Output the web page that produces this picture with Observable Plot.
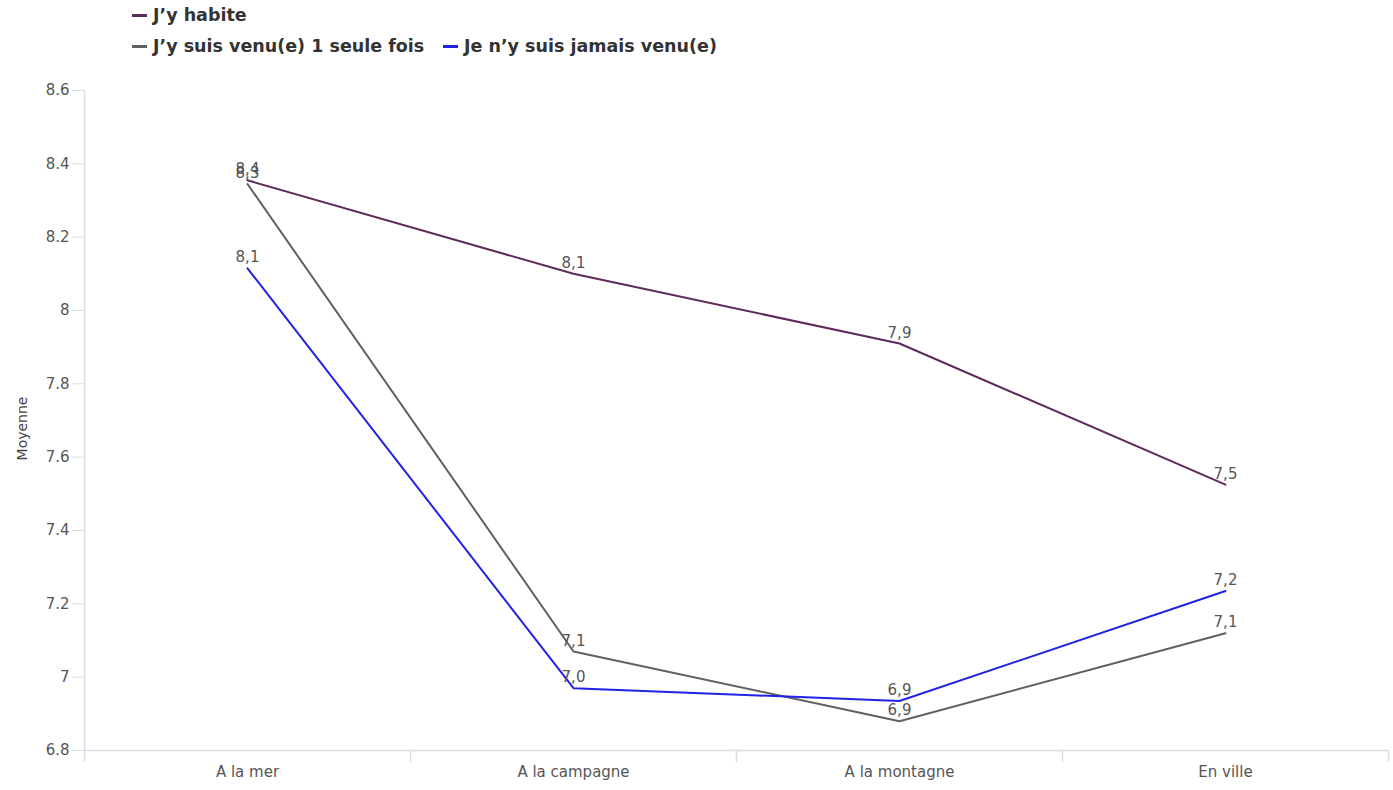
<!DOCTYPE html>
<html>
<head>
<meta charset="utf-8">
<script src="https://cdn.jsdelivr.net/npm/d3@7"></script>
<script src="https://cdn.jsdelivr.net/npm/@observablehq/plot@0.6"></script>
<style>
  html, body { margin: 0; padding: 0; background: #fff; }
  #wrap { position: relative; width: 1393px; height: 790px; font-family: "DejaVu Sans", Verdana, sans-serif; }
  #legend { position: relative; height: 70px; }
  .item { position: absolute; font-weight: bold; font-size: 17.5px; color: #333; white-space: nowrap; line-height: 20px; }
  .sw { display: inline-block; width: 15px; height: 3px; vertical-align: middle; margin-right: 6px; position: relative; top: -1px; }
</style>
</head>
<body>
<div id="wrap">
  <div id="legend"></div>
  <div id="chart"></div>
</div>
<script>
const categories = ["A la mer", "A la campagne", "A la montagne", "En ville"];
const seriesNames = ["J’y habite", "J’y suis venu(e) 1 seule fois", "Je n’y suis jamais venu(e)"];
const seriesColors = ["#5e2a5a", "#606060", "#2222e6"];
const habite = [8.355, 8.10, 7.91, 7.525];
const uneFois = [8.345, 7.07, 6.88, 7.12];
const jamais = [8.115, 6.97, 6.935, 7.235];
const yTicks = [6.8, 7.0, 7.2, 7.4, 7.6, 7.8, 8.0, 8.2, 8.4, 8.6];

const seriesValues = [habite, uneFois, jamais];
const data = [];
seriesValues.forEach((vals, s) => vals.forEach((v, i) => data.push({serie: seriesNames[s], i, cat: categories[i], v})));

// Legend
const legendPos = [[132, 5], [132, 36], [443, 36]];
const legend = document.getElementById("legend");
seriesNames.forEach((n, k) => {
  const d = document.createElement("div");
  d.className = "item";
  d.style.left = legendPos[k][0] + "px";
  d.style.top = legendPos[k][1] + "px";
  d.innerHTML = `<span class="sw" style="background:${seriesColors[k]}"></span>${n}`;
  legend.appendChild(d);
});

const fmt = v => v.toFixed(1).replace(".", ",");
const axisColor = "#dcdce6";

const chart = Plot.plot({
  width: 1393,
  height: 720,
  marginLeft: 84,
  marginRight: 5,
  marginTop: 20,
  marginBottom: 40,
  style: {fontFamily: "DejaVu Sans, Verdana, sans-serif", fontSize: "15px", color: "#555", background: "#fff"},
  x: {type: "linear", domain: [-0.5, categories.length - 0.5], label: null},
  y: {domain: [6.8, 8.6], label: null},
  color: {domain: seriesNames, range: seriesColors},
  marks: [
    Plot.ruleY([6.8], {stroke: axisColor, strokeWidth: 1.5}),
    Plot.ruleX([-0.5], {y1: 8.6, y2: 6.8, stroke: axisColor, strokeWidth: 1.5}),
    Plot.axisX(d3.range(-0.5, categories.length), {tickSize: 12, tickFormat: () => "", stroke: axisColor, strokeWidth: 1.5, label: null}),
    Plot.axisX(d3.range(categories.length), {tickSize: 0, tickPadding: 16, tickFormat: i => categories[i], fill: "#555", fontSize: 15, label: null}),
    Plot.axisY(yTicks, {tickSize: 12, tickPadding: 3, stroke: axisColor, tickFormat: d => String(+d.toFixed(1)), fill: "#555", fontSize: 15, label: null}),
    Plot.text(["Moyenne"], {frameAnchor: "left", textAnchor: "middle", dx: -62, dy: 8, rotate: -90, fill: "#444", fontSize: 14}),
    Plot.line(data, {x: "i", y: "v", z: "serie", stroke: "serie", strokeWidth: 2}),
    Plot.text(data, {x: "i", y: "v", text: d => fmt(d.v), lineAnchor: "bottom", dy: -6, fill: "#555", fontSize: 15})
  ]
});
document.getElementById("chart").appendChild(chart);
</script>
</body>
</html>
